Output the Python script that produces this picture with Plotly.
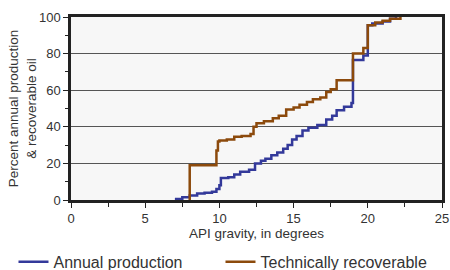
import plotly.graph_objects as go

# Annual production (step curve)
prod_x = [7.0, 7.5, 8.0, 8.5, 9.0, 9.5, 9.8, 10.0, 10.1, 10.6, 11.0, 11.4, 12.0, 12.4, 12.8, 13.1,
          13.5, 13.9, 14.3, 14.6, 14.9, 15.2, 15.6, 16.0, 16.6, 17.2, 17.6, 17.9, 18.4, 18.9, 19.0,
          19.7, 20.0, 20.3, 21.0, 21.5, 21.9]
prod_y = [0.5, 1.5, 2.5, 3.5, 4, 4.5, 6, 8, 12, 12.5, 14, 15.5, 16.5, 20, 21.5, 22.5,
          24.5, 26, 28, 30, 33, 35, 38, 39.5, 41, 44, 46, 49, 51, 53, 76.5,
          79, 95.5, 96.5, 97.5, 99, 100]

# Technically recoverable (step curve)
rec_x = [8.0, 8.0, 9.8, 9.9, 10.0, 10.5, 11.0, 11.5, 12.1, 12.3, 12.5, 13.0, 13.6, 14.0, 14.5,
         15.0, 15.4, 15.9, 16.3, 16.8, 17.2, 17.5, 17.9, 19.0, 19.7, 20.0, 20.5, 21.0, 21.5, 22.2]
rec_y = [0, 19, 27, 32, 32.5, 33, 34.5, 35, 36, 40, 42, 43, 44.7, 46, 49.5,
         50.5, 52, 53.5, 55, 56, 59, 60.5, 65.5, 80, 83, 95.5, 97, 98, 99, 100]

x_ticks = [0, 5, 10, 15, 20, 25]
y_ticks = [0, 20, 40, 60, 80, 100]

font = "Liberation Sans, Arial, sans-serif"

fig = go.Figure()
fig.add_trace(go.Scatter(x=prod_x, y=prod_y, mode="lines", line_shape="hv",
                         name="Annual production",
                         line=dict(color="#33399a", width=2.5)))
fig.add_trace(go.Scatter(x=rec_x, y=rec_y, mode="lines", line_shape="hv",
                         name="Technically recoverable",
                         line=dict(color="#8c4a0c", width=2.5)))

fig.update_layout(
    width=450, height=270,
    margin=dict(l=71, r=8, t=17, b=70, autoexpand=False),
    paper_bgcolor="white",
    plot_bgcolor="#f7f7f7",
    font=dict(family=font, size=13, color="#333333"),
    showlegend=True,
    legend=dict(orientation="h", x=-0.155, xanchor="left", y=-0.245, yanchor="top",
                font=dict(size=16, color="#333333"), entrywidth=162, entrywidthmode="pixels",
                itemwidth=30, bgcolor="rgba(0,0,0,0)"),
)
fig.update_xaxes(range=[0, 25], tickvals=x_ticks, showgrid=False, zeroline=False,
                 showline=True, linecolor="#222222", linewidth=2.5, mirror=True,
                 ticks="outside", ticklen=5, tickwidth=1.2, tickcolor="#222222",
                 minor=dict(dtick=2.5, ticks="outside", ticklen=4, tickcolor="#222222", tickwidth=1),
                 title=dict(text="API gravity, in degrees", font=dict(size=13.5), standoff=3),
                 tickfont=dict(size=13))
fig.update_yaxes(range=[0, 100], tickvals=y_ticks, showgrid=True, gridcolor="#555555", gridwidth=1,
                 zeroline=False, showline=True, linecolor="#222222", linewidth=2.5, mirror=True,
                 ticks="outside", ticklen=5, tickwidth=1.2, tickcolor="#222222",
                 minor=dict(dtick=10, ticks="outside", ticklen=3, tickcolor="#222222", tickwidth=1),
                 title=dict(text="Percent annual production<br>& recoverable oil", font=dict(size=13.5), standoff=0),
                 tickfont=dict(size=13))

fig.write_html("out.html", config={"displayModeBar": False},
               post_script="document.body.style.margin='0px';")
